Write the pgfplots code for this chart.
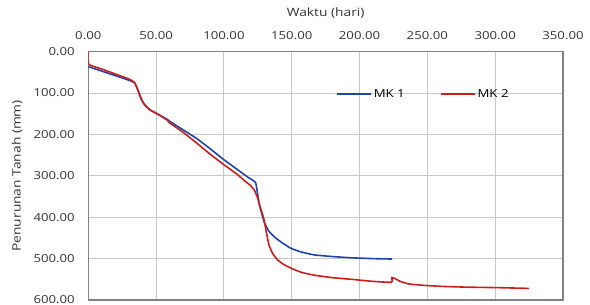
\documentclass[border=0pt]{standalone}
\usepackage{pgfplots}
\pgfplotsset{compat=1.18}
\usepackage{fontspec}
\setmainfont{Open Sans}[FakeStretch=1.2]
\definecolor{mkblue}{RGB}{30,70,170}
\definecolor{mkred}{RGB}{205,30,30}
\definecolor{gridgray}{RGB}{200,200,200}
\definecolor{axgray}{RGB}{130,130,130}
\begin{document}
\begin{tikzpicture}
\useasboundingbox (-88.3pt,-5pt) rectangle (501.7pt,300pt);
\begin{axis}[
  at={(0,0)}, anchor=south west,
  scale only axis, width=474.7pt, height=248.3pt,
  xmin=0, xmax=350, ymin=0, ymax=600,
  y dir=reverse,
  xtick={0,50,...,350}, ytick={0,100,...,600},
  xticklabel pos=upper,
  grid=major,
  major grid style={gridgray, line width=0.9pt},
  axis line style={axgray, line width=1.5pt},
  major tick length=0pt,
  tick label style={font=\fontsize{11}{13}\selectfont, text=black!80},
  xticklabel style={yshift=9pt},
  yticklabel style={xshift=-10pt},
  /pgf/number format/.cd, fixed, fixed zerofill, precision=2, 1000 sep={}, assume math mode=true,
  /pgfplots/.cd,
  xlabel={Waktu (hari)}, ylabel={Penurunan Tanah (mm)},
  label style={font=\fontsize{11.5}{13}\selectfont, text=black!80},
  xlabel style={at={(axis description cs:0.5,1.1547)}, anchor=center},
  ylabel style={at={(axis description cs:-0.1496,0.5)}, anchor=center},
  legend style={draw=none, fill=none, at={(0.515,0.83)}, anchor=west,
    font=\fontsize{11}{13}\selectfont, column sep=0pt,
    /tikz/every even column/.append style={column sep=33pt}},
  legend columns=2,
  legend image code/.code={\draw[#1, line width=1.8pt] (0pt,0pt) -- (34pt,0pt);},
  every axis plot/.append style={line width=1.6pt, smooth, tension=0.3},
]
\addplot[mkblue] coordinates {
(0,36) (10,47) (20,58) (30,69) (34,75) (36,88) (38.3,107) (40,120) (42,130) (45.7,141) (50.7,150) (58,163)
(60,168) (70,189) (80,210) (90,235) (100,261) (110,285) (118,304) (123.4,317)
(125.9,366) (129.6,411) (133,433) (137,447) (143,462) (149.4,475) (157,484) (166.6,491) (180,495) (194,498) (210,500) (224,501)
};
\addlegendentry{MK 1}
\addplot[mkred] coordinates {
(0,0) (0.3,30) (10,42) (20,54) (30,66) (34,74) (36,88) (38.3,109) (40,121) (42,130) (45.7,141) (50.7,150) (58,165)
(60,172) (70,195) (80,221) (90,248) (100,273) (110,297) (116,314) (119.8,324) (122.5,335) (124.7,352)
(127,378) (129.6,406) (131.5,440) (133.3,468) (136,488) (139.6,503) (144,514) (149.4,523) (157,533) (166.6,540) (180,546) (194,550) (210,555) (223.5,557)
(223.8,546) (226,548) (230,555) (236,561) (245,564) (260,567) (280,569) (300,570) (325,572)
};
\addlegendentry{MK 2}
\end{axis}
\end{tikzpicture}
\end{document}
